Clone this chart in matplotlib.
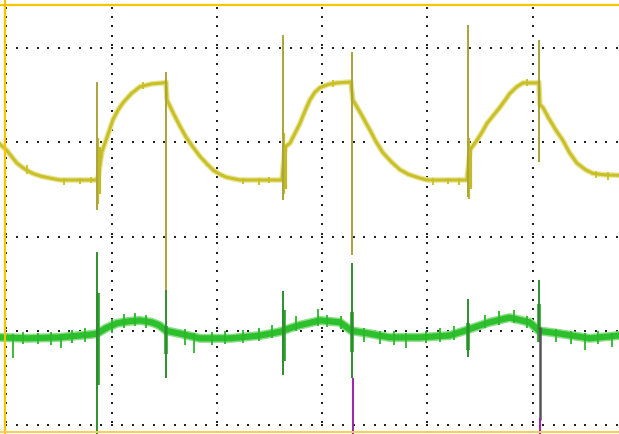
import matplotlib
matplotlib.use("Agg")
import matplotlib.pyplot as plt
import numpy as np

# traces, time and level in divisions
# CH1 (yellow)
ch1_t = [-0.06, 0.0, 0.05, 0.10, 0.17, 0.25, 0.33, 0.415, 0.51, 0.85, 0.87,
         0.909, 0.94, 0.98, 1.013, 1.06, 1.108, 1.19, 1.27, 1.38, 1.488, 1.517,
         1.526, 1.59, 1.65, 1.71, 1.773, 1.84, 1.906, 1.97, 2.03, 2.09, 2.153, 2.22, 2.618,
         2.647, 2.694, 2.74, 2.789, 2.84, 2.884, 2.93, 2.979, 3.06, 3.14, 3.273,
         3.292, 3.37, 3.454, 3.51, 3.577, 3.66, 3.739, 3.82, 3.90, 3.995, 4.375,
         4.404, 4.47, 4.52, 4.565, 4.63, 4.688, 4.74, 4.784, 4.85, 4.907, 5.04, 5.059,
         5.068, 5.097, 5.15, 5.22, 5.287, 5.35, 5.42, 5.50, 5.572, 5.68, 5.82]
ch1_v = [2.98, 2.92, 2.85, 2.78, 2.72, 2.67, 2.64, 2.62, 2.60, 2.60, 2.62,
         2.90, 3.00, 3.13, 3.24, 3.34, 3.42, 3.52, 3.59, 3.62, 3.63, 3.64,
         3.45, 3.30, 3.17, 3.05, 2.95, 2.85, 2.77, 2.70, 2.66, 2.63, 2.615, 2.60, 2.60,
         2.95, 2.99, 3.09, 3.20, 3.34, 3.45, 3.53, 3.58, 3.615, 3.63, 3.64,
         3.45, 3.30, 3.13, 3.01, 2.89, 2.79, 2.71, 2.66, 2.63, 2.60, 2.60,
         2.92, 3.02, 3.11, 3.20, 3.29, 3.37, 3.45, 3.52, 3.59, 3.63, 3.63, 3.64,
         3.40, 3.37, 3.26, 3.13, 3.02, 2.89, 2.78, 2.71, 2.67, 2.655, 2.65]

# CH1 switching spikes
ch1_spike_t = [0.861, 1.517, 2.628, 3.283, 4.385, 5.059]
ch1_spike_hi = [3.64, 3.745, 4.14, 3.96, 4.24, 4.085]
ch1_spike_lo = [2.28, 1.43, 2.39, 1.80, 2.42, 2.79]

# CH1 ringing right after the rising edges
ch1_ring_t = [0.875, 0.89, 2.64, 2.655, 4.395, 4.41]
ch1_ring_lo = [2.35, 2.45, 2.45, 2.50, 2.40, 2.50]
ch1_ring_hi = [3.05, 2.95, 3.10, 2.95, 3.05, 2.95]

# CH1 small noise ticks
ch1_tick_t = [0.20, 0.55, 0.70, 0.80, 2.25, 2.40, 2.50, 4.05, 4.20, 4.30, 5.60, 5.72, 1.30, 3.10, 4.95]
ch1_tick_lo = [2.66, 2.55, 2.56, 2.57, 2.56, 2.55, 2.57, 2.55, 2.56, 2.55, 2.62, 2.60, 3.57, 3.59, 3.60]
ch1_tick_hi = [2.76, 2.62, 2.62, 2.63, 2.62, 2.62, 2.63, 2.62, 2.62, 2.62, 2.70, 2.68, 3.64, 3.66, 3.67]

# CH2 (green)
ch2_t = [-0.06, 0.20, 0.50, 0.80, 0.86, 0.95, 1.05, 1.16, 1.27, 1.38, 1.45, 1.52, 1.65, 1.84, 2.13, 2.41,
         2.60, 2.70, 2.79, 2.98, 3.17, 3.28, 3.45, 3.64, 3.93, 4.21, 4.38, 4.48, 4.59, 4.78, 4.97, 5.06,
         5.26, 5.54, 5.82]
ch2_v = [0.93, 0.92, 0.93, 0.96, 0.97, 1.03, 1.08, 1.10, 1.11, 1.09, 1.06, 1.00, 0.97, 0.92, 0.92, 0.95,
         0.99, 1.03, 1.06, 1.11, 1.09, 1.00, 0.97, 0.93, 0.93, 0.95, 1.01, 1.05, 1.09, 1.14, 1.09, 1.00,
         0.97, 0.92, 0.95]

ch2_spike_t = [0.861, 1.517, 2.628, 3.283, 4.385, 5.059]
ch2_spike_hi = [1.84, 1.43, 1.42, 1.72, 1.34, 1.54]
ch2_spike_lo = [-0.10, 0.50, 0.53, 0.50, 0.72, 1.01]

ch2_burst_t = [0.87, 1.52, 2.635, 3.285, 4.39, 5.06]
ch2_burst_lo = [0.42, 0.75, 0.68, 0.78, 0.80, 0.88]
ch2_burst_hi = [1.40, 1.05, 1.22, 1.20, 1.08, 1.28]

ch2_tick_t = [0.064, 0.16, 0.30, 0.42, 0.52, 0.62, 0.75, 1.00, 1.12, 1.22, 1.33, 1.70, 1.78, 1.95, 2.08,
              2.25, 2.40, 2.52, 2.75, 2.96, 3.05, 3.18, 3.40, 3.55, 3.68, 3.80, 3.99, 4.12, 4.25, 4.55,
              4.68, 4.82, 4.95, 5.22, 5.36, 5.50, 5.62, 5.75]
ch2_tick_lo = [0.71, 0.86, 0.86, 0.85, 0.82, 0.87, 0.88, 0.98, 1.03, 1.05, 1.03, 0.85, 0.76, 0.85, 0.86,
               0.87, 0.89, 0.92, 1.00, 1.05, 1.04, 1.02, 0.88, 0.86, 0.85, 0.82, 0.87, 0.88, 0.90, 1.03,
               1.06, 1.08, 1.03, 0.88, 0.86, 0.80, 0.86, 0.83]
ch2_tick_hi = [0.97, 0.99, 0.98, 0.99, 0.96, 1.01, 1.03, 1.13, 1.18, 1.19, 1.17, 1.02, 0.98, 0.99, 1.00,
               1.01, 1.03, 1.06, 1.16, 1.23, 1.17, 1.16, 1.03, 1.00, 1.00, 0.98, 1.00, 1.03, 1.05, 1.17,
               1.21, 1.22, 1.16, 1.02, 1.00, 0.98, 1.00, 0.98]

# CH3/CH4 (purple, dark) bits at the bottom
ch3_t = [3.292, 5.068]
ch3_lo = [-0.10, -0.10]
ch3_hi = [0.50, 0.07]
ch4_t = [5.068]
ch4_lo = [0.05]
ch4_hi = [1.04]

fig = plt.figure(figsize=(6.19, 4.34), dpi=100)
ax = fig.add_axes([0, 0, 1, 1])
ax.set_xlim(-0.06, 5.82)
ax.set_ylim(-0.095, 4.51)
ax.axis("off")

# dotted graticule
for gx in range(6):
    dv = np.arange(-0.07, 4.46, 0.1)
    ax.plot([gx] * len(dv), dv, ls="none", marker="s", ms=1.5, color="#222222", mew=0, zorder=1)
for gy in range(5):
    dt = np.arange(0, 5.85, 0.1)
    ax.plot(dt, [gy] * len(dt), ls="none", marker="s", ms=1.5, color="#222222", mew=0, zorder=1)

# screen border
ax.axhline(4.46, color="#f7c400", lw=1.6, zorder=5)
ax.axvline(-0.013, color="#f7c400", lw=1.6, zorder=5)
ax.axhline(-0.075, color="#f5cf55", lw=1.4, zorder=5)

# CH1
ax.plot(ch1_t, ch1_v, color="#e9e597", lw=4.0, zorder=2)
ax.plot(ch1_t, ch1_v, color="#c8c028", lw=2.2, zorder=3)
ax.vlines(ch1_tick_t, ch1_tick_lo, ch1_tick_hi, color="#c8c028", lw=1.3, zorder=3)
ax.vlines(ch1_ring_t, ch1_ring_lo, ch1_ring_hi, color="#c2ba28", lw=1.6, zorder=3)
ax.vlines(ch1_spike_t, ch1_spike_lo, ch1_spike_hi, color="#aaa43a", lw=1.4, zorder=3)

# CH2
ax.plot(ch2_t, ch2_v, color="#8edc88", lw=6.5, zorder=2)
ax.plot(ch2_t, ch2_v, color="#2cc02c", lw=4.4, zorder=3)
ax.vlines(ch2_tick_t, ch2_tick_lo, ch2_tick_hi, color="#2cb82c", lw=1.3, zorder=3)
ax.vlines(ch2_burst_t, ch2_burst_lo, ch2_burst_hi, color="#2aa02a", lw=2.6, zorder=3)
ax.vlines(ch2_spike_t, ch2_spike_lo, ch2_spike_hi, color="#2e8e2e", lw=1.4, zorder=4)

# CH3 / CH4
ax.vlines(ch4_t, ch4_lo, ch4_hi, color="#555555", lw=1.8, zorder=4)
ax.vlines(ch3_t, ch3_lo, ch3_hi, color="#9a2aa8", lw=1.5, zorder=4)

fig.savefig("out.png", dpi=100, facecolor="white")
